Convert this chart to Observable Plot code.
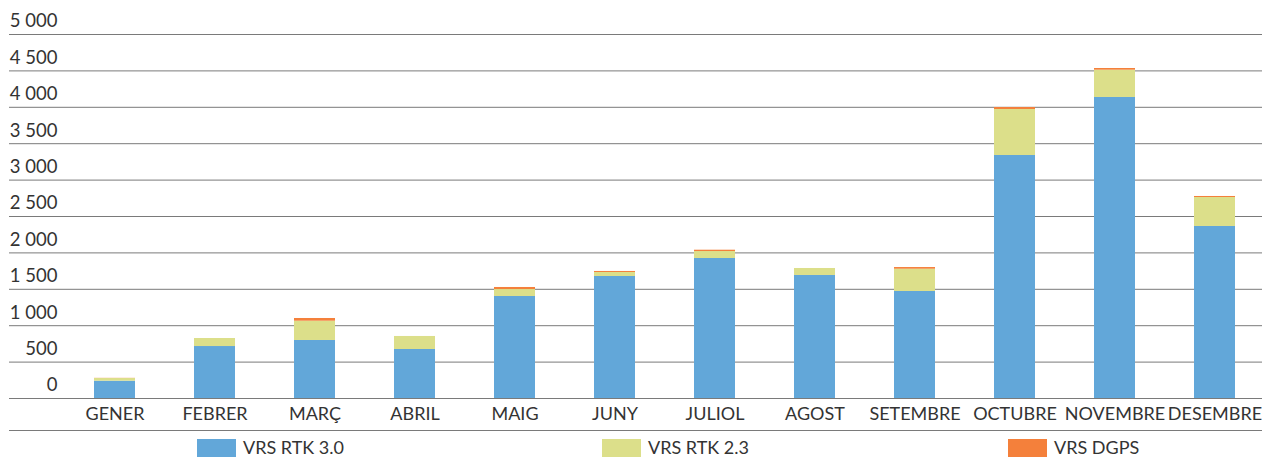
<!DOCTYPE html>
<html>
<head>
<meta charset="utf-8">
<script src="https://cdn.jsdelivr.net/npm/d3@7"></script>
<script src="https://cdn.jsdelivr.net/npm/@observablehq/plot@0.6"></script>
<style>
  html, body { margin: 0; padding: 0; background: #fff; }
  #chart { width: 1262px; height: 457px; overflow: hidden; position: relative; font-family: Lato, "Open Sans", sans-serif; }
  #legend { position: relative; height: 23px; font-size: 18px; color: #333; }
  .item { position: absolute; top: 4px; display: flex; align-items: flex-start; white-space: nowrap; line-height: 18px; }
  .sw { width: 39px; height: 19px; margin-top: 1px; margin-right: 7px; }
</style>
</head>
<body>
<div id="chart"></div>
<script>
const months = ["GENER","FEBRER","MARÇ","ABRIL","MAIG","JUNY","JULIOL","AGOST","SETEMBRE","OCTUBRE","NOVEMBRE","DESEMBRE"];
const seriesNames = ["VRS RTK 3.0","VRS RTK 2.3","VRS DGPS"];
const rtk30 = [238, 714, 797, 673, 1401, 1676, 1923, 1690, 1470, 3338, 4135, 2363];
const rtk23 = [37, 110, 265, 179, 96, 55, 96, 96, 306, 632, 375, 398];
const dgps  = [2, 0, 37, 0, 28, 14, 18, 0, 23, 27, 23, 14];
const colors = ["#62a7d9", "#dcdf8a", "#f4803b"];
const yTicks = [0, 500, 1000, 1500, 2000, 2500, 3000, 3500, 4000, 4500, 5000];
const tickLabels = ["0","500","1 000","1 500","2 000","2 500","3 000","3 500","4 000","4 500","5 000"];

const seriesValues = [rtk30, rtk23, dgps];
const data = [];
months.forEach((m, i) => {
  seriesNames.forEach((s, j) => data.push({month: m, series: s, value: seriesValues[j][i]}));
});

const plot = Plot.plot({
  width: 1262,
  height: 434,
  marginTop: 0,
  marginBottom: 4,
  marginLeft: 9,
  marginRight: 0,
  style: {fontFamily: "Lato, 'Open Sans', sans-serif", fontSize: "18px", color: "#333", background: "#fff"},
  x: {type: "band", domain: months, range: [64.5, 1264.5], paddingInner: 0.59, paddingOuter: 0.295, axis: null},
  y: {domain: [0, 5000], range: [398, 34], axis: null},
  color: {domain: seriesNames, range: colors},
  marks: [
    Plot.ruleY(yTicks, {stroke: "#7a7a7a", strokeWidth: 1}),
    Plot.frame({anchor: "bottom", stroke: "#7a7a7a", strokeWidth: 1}),
    Plot.barY(data, {x: "month", y: "value", fill: "series", z: "series", order: seriesNames}),
    Plot.text(yTicks, {y: d => d, text: (d, i) => tickLabels[i], frameAnchor: "left", dx: 48, dy: -13, textAnchor: "end", fill: "#333", fontSize: 18.5}),
    Plot.text(months, {x: d => d, y: () => 0, text: d => d, dy: 16, textAnchor: "middle", fill: "#333"})
  ]
});
const chart = document.getElementById("chart");
chart.appendChild(plot);

const legend = document.createElement("div");
legend.id = "legend";
const lefts = [197, 602, 1008];
seriesNames.forEach((s, i) => {
  const it = document.createElement("div");
  it.className = "item";
  it.style.left = lefts[i] + "px";
  const sw = document.createElement("span");
  sw.className = "sw";
  sw.style.background = colors[i];
  const t = document.createElement("span");
  t.textContent = s;
  it.appendChild(sw); it.appendChild(t);
  legend.appendChild(it);
});
chart.appendChild(legend);
</script>
</body>
</html>
